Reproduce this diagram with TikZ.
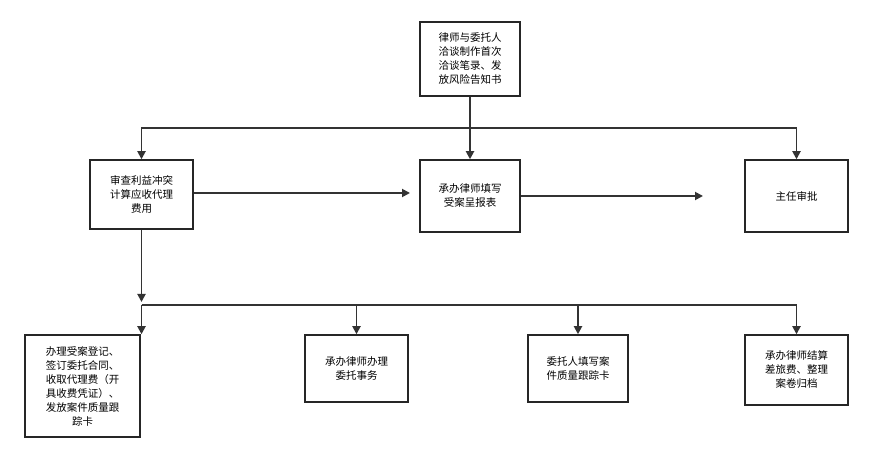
\documentclass[tikz,border=0pt]{standalone}
\usepackage{fontspec}
\setmainfont{Noto Sans CJK SC}
\usetikzlibrary{arrows.meta}
\begin{document}
\begin{tikzpicture}[x=1pt,y=-1pt,
 box/.style={draw=black!85,line width=1.5pt,fill=white,align=center,font=\fontsize{10.5}{14}\selectfont,inner sep=2pt},
 conn/.style={draw=black!80,line width=1.8pt},
 arr/.style={conn,-{Triangle[length=8pt,width=8pt]}}]
\useasboundingbox (0,0) rectangle (871,462);
\fill[white] (0,0) rectangle (871,462);
\node[box,minimum width=100pt,minimum height=74pt] (top) at (470,59) {律师与委托人\\洽谈制作首次\\洽谈笔录、发\\放风险告知书};
\node[box,minimum width=103pt,minimum height=69pt] (l) at (141.5,194.5) {审查利益冲突\\计算应收代理\\费用};
\node[box,minimum width=100pt,minimum height=72pt] (m) at (470,196) {承办律师填写\\受案呈报表};
\node[box,minimum width=103pt,minimum height=72pt] (r) at (796.5,196) {主任审批};
\node[box,minimum width=115pt,minimum height=102pt] (b1) at (82.5,386) {办理受案登记、\\签订委托合同、\\收取代理费（开\\具收费凭证）、\\发放案件质量跟\\踪卡};
\node[box,minimum width=103pt,minimum height=67pt] (b2) at (356.5,368.5) {承办律师办理\\委托事务};
\node[box,minimum width=100pt,minimum height=67pt] (b3) at (578,368.5) {委托人填写案\\件质量跟踪卡};
\node[box,minimum width=103pt,minimum height=70pt] (b4) at (796.5,370) {承办律师结算\\差旅费、整理\\案卷归档};
\coordinate (h1) at (470,128);
\draw[arr] (top.south) -- (m.north);
\draw[arr] (h1) -| (l.north);
\draw[arr] (h1) -| (r.north);
\coordinate (a1) at (410,193);
\coordinate (a2) at (703,196);
\draw[arr] (l.east |- a1) -- (a1);
\draw[arr] (m.east |- a2) -- (a2);
\coordinate (d) at (141.5,302);
\draw[arr] (l.south) -- (d);
\coordinate (hl) at (141.5,305);
\coordinate (hr) at (796.5,305);
\draw[conn] (hl) -- (hr);
\draw[arr] (hl) -- (hl |- b1.north);
\draw[arr] (b2.north |- hl) -- (b2.north);
\draw[arr] (b3.north |- hl) -- (b3.north);
\draw[arr] (hr) -- (b4.north);
\end{tikzpicture}
\end{document}
